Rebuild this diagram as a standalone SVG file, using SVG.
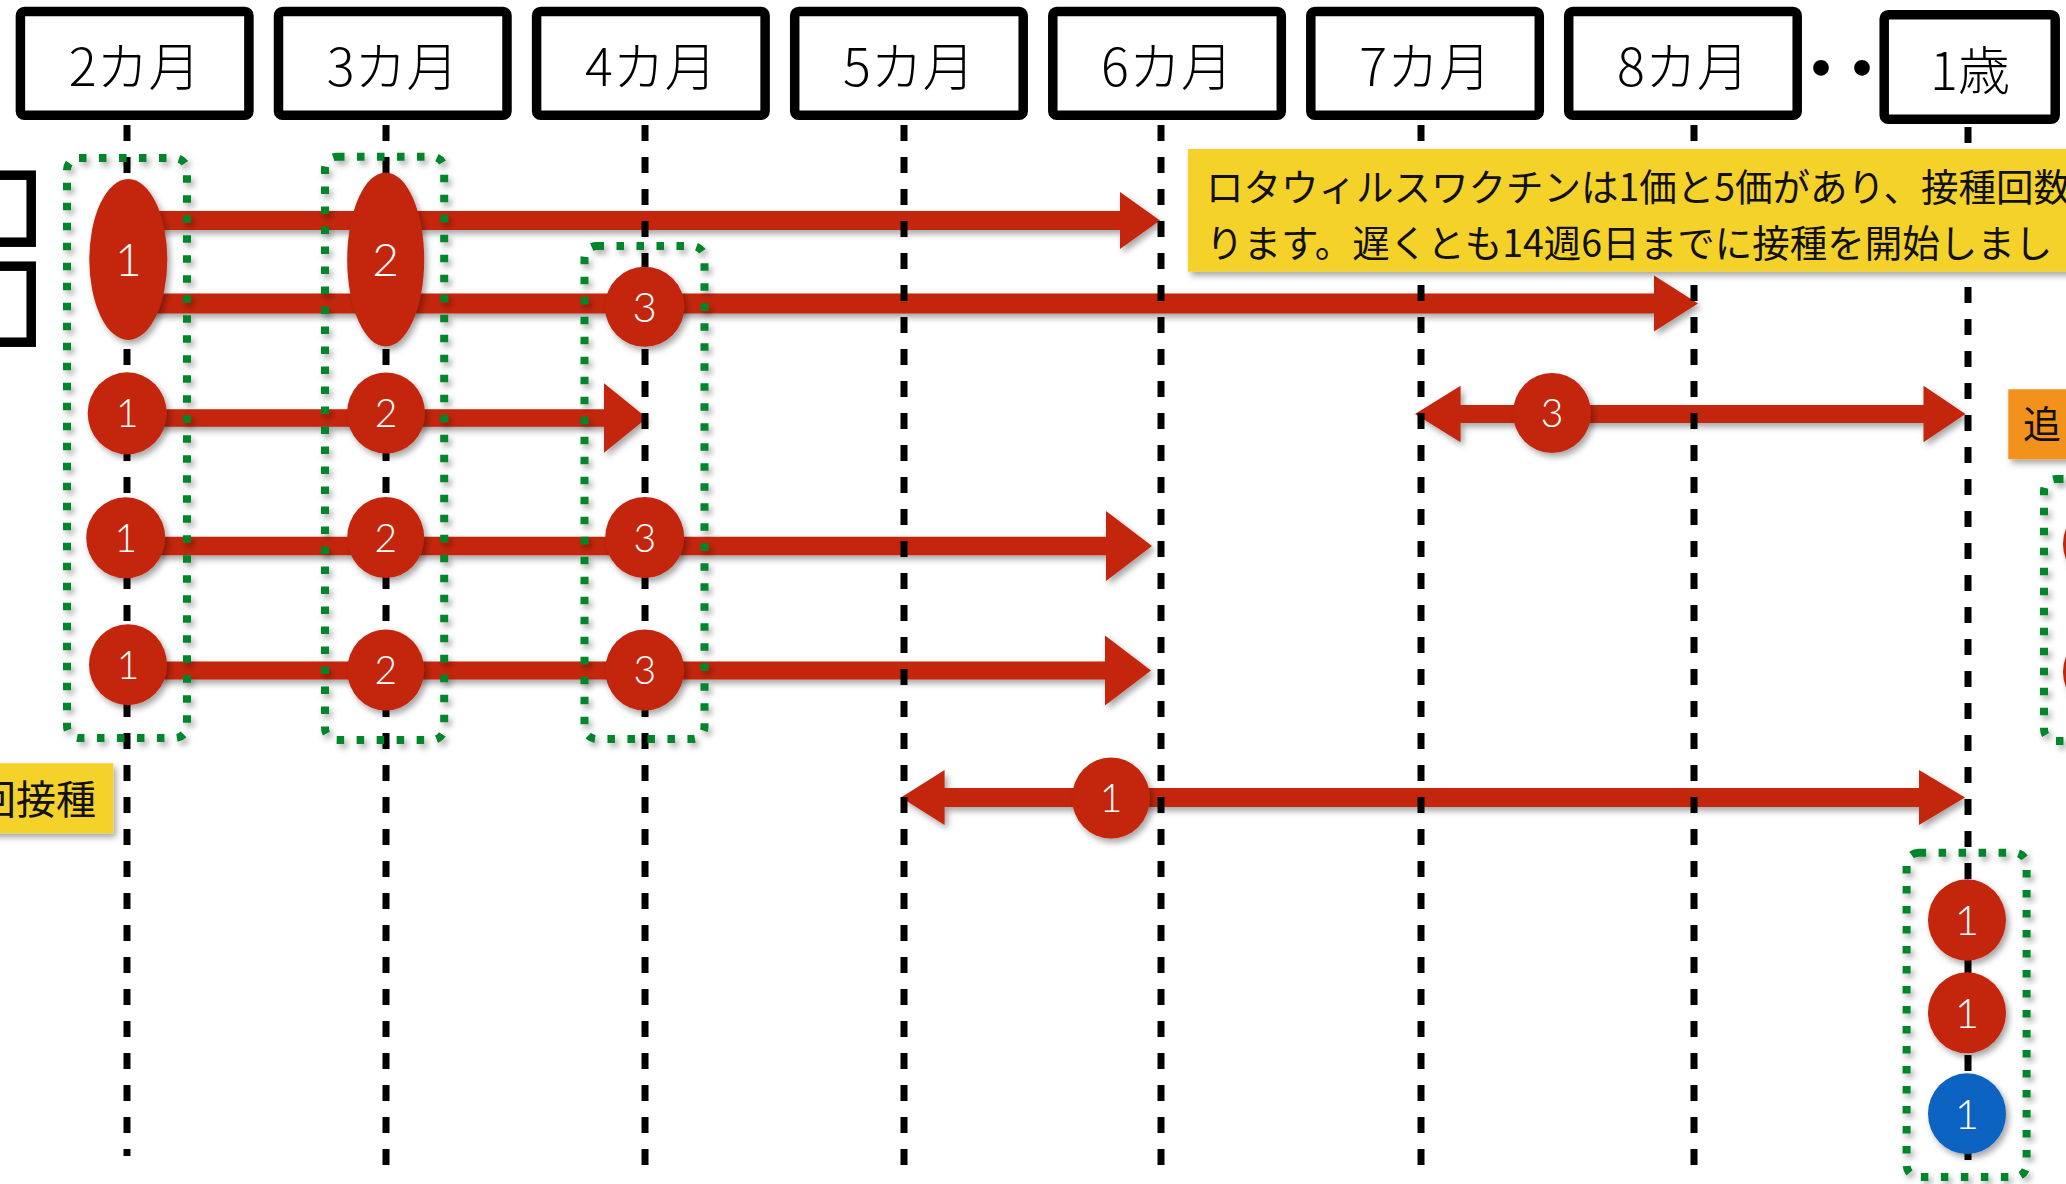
<svg xmlns="http://www.w3.org/2000/svg" width="2066" height="1184" viewBox="0 0 2066 1184">
<defs>
<filter id="sh" x="-20%" y="-20%" width="140%" height="140%">
<feDropShadow dx="3" dy="4" stdDeviation="3" flood-color="#000" flood-opacity="0.35"/>
</filter>
<style>
.hbox{fill:#fff;stroke:#000;stroke-width:9.5}
.htxt{font-family:"Noto Sans CJK JP","Noto Sans",sans-serif;font-weight:300;font-size:52px;fill:#000;text-anchor:middle}
.arr{fill:#C4250A;filter:url(#sh)}
.vl{stroke:#000;stroke-width:7;stroke-dasharray:16 16;fill:none}
.grp{fill:none;stroke:#00862B;stroke-width:8;stroke-dasharray:7.5 12.5;filter:url(#sh)}
.dot{fill:#C4250A;filter:url(#sh)}
.bdot{fill:#0A64C2;filter:url(#sh)}
.num{font-family:Lato,"Open Sans","Liberation Sans",sans-serif;font-weight:300;fill:#fff;text-anchor:middle}
.note{fill:#F4D22B;filter:url(#sh)}
.ntxt{font-family:"Noto Sans CJK JP","Noto Sans",sans-serif;fill:#111}
</style>
</defs>
<rect x="0" y="0" width="2066" height="1184" fill="#fff"/>

<g id="headers">
<g id="h2"><rect class="hbox" x="20.4" y="11.5" width="228.5" height="103.8" rx="4"/><text class="htxt" x="134.6" y="86">2カ月</text></g>
<g id="h3"><rect class="hbox" x="278.5" y="11.5" width="228.5" height="103.8" rx="4"/><text class="htxt" x="392.7" y="86">3カ月</text></g>
<g id="h4"><rect class="hbox" x="536.6" y="11.5" width="228.5" height="103.8" rx="4"/><text class="htxt" x="650.8" y="86">4カ月</text></g>
<g id="h5"><rect class="hbox" x="794.7" y="11.5" width="228.5" height="103.8" rx="4"/><text class="htxt" x="908.9" y="86">5カ月</text></g>
<g id="h6"><rect class="hbox" x="1052.8" y="11.5" width="228.5" height="103.8" rx="4"/><text class="htxt" x="1167" y="86">6カ月</text></g>
<g id="h7"><rect class="hbox" x="1310.8" y="11.5" width="228.5" height="103.8" rx="4"/><text class="htxt" x="1425.1" y="86">7カ月</text></g>
<g id="h8"><rect class="hbox" x="1568.7" y="11.5" width="228.5" height="103.8" rx="4"/><text class="htxt" x="1683" y="86">8カ月</text></g>
<g id="hdots"><text x="1793" y="89" font-family="Noto Sans CJK JP,sans-serif" font-weight="900" font-size="56" letter-spacing="-15" fill="#000">・・</text></g>
<g id="h1y"><rect class="hbox" x="1884.2" y="14.8" width="171" height="104.4" rx="4"/><text class="htxt" x="1970" y="90">1歳</text></g>
</g>

<g id="leftboxes">
<rect class="hbox" x="-200" y="175.2" width="231.2" height="67"/>
<rect class="hbox" x="-200" y="266.2" width="231.2" height="76"/>
</g>

<g id="connectors">
<path class="arr" d="M127,211 L1120,211 L1120,192 L1160,220.5 L1120,249 L1120,230 L127,230 Z"/>
<path class="arr" d="M127,293.5 L1654,293.5 L1654,275.5 L1698,303.5 L1654,331.5 L1654,313.5 L127,313.5 Z"/>
<path class="arr" d="M127,409.3 L604,409.3 L604,383.3 L647,418 L604,452.7 L604,426.7 L127,426.7 Z"/>
<path class="arr" d="M127,536.8 L1106,536.8 L1106,511 L1152,546 L1106,581 L1106,555.2 L127,555.2 Z"/>
<path class="arr" d="M127,661.5 L1105,661.5 L1105,635.5 L1151,670.5 L1105,705.5 L1105,679.5 L127,679.5 Z"/>
<path class="arr" d="M1415,414 L1460.6,385.7 L1460.6,405 L1923.5,405 L1923.5,385.7 L1965.5,414 L1923.5,442.3 L1923.5,423 L1460.6,423 L1460.6,442.3 Z"/>
<path class="arr" d="M901,797.5 L944.6,770 L944.6,788 L1919,788 L1919,770 L1965,797.5 L1919,825 L1919,807 L944.6,807 L944.6,825 Z"/>
<g id="gridlines">
<line class="vl" x1="127" y1="125" x2="127" y2="1156"/>
<line class="vl" x1="386" y1="125" x2="386" y2="1165"/>
<line class="vl" x1="645" y1="125" x2="645" y2="1165"/>
<line class="vl" x1="904" y1="125" x2="904" y2="1165"/>
<line class="vl" x1="1161" y1="125" x2="1161" y2="1165"/>
<line class="vl" x1="1421" y1="125" x2="1421" y2="1165"/>
<line class="vl" x1="1694" y1="125" x2="1694" y2="1165"/>
<line class="vl" x1="1968" y1="127" x2="1968" y2="1160"/>
</g>
</g>

<g id="groups">
<rect id="gA" class="grp" x="67" y="158" width="120" height="580" rx="12"/>
<rect id="gB" class="grp" x="325" y="156.7" width="119.2" height="583.3" rx="12"/>
<rect id="gC" class="grp" x="584.5" y="246" width="120" height="493" rx="12"/>
<rect id="gD" class="grp" x="2044" y="479" width="120" height="262" rx="12"/>
<rect id="gE" class="grp" x="1906.6" y="852.7" width="120" height="324.3" rx="12"/>
</g>

<g id="doses">
<g id="e1"><ellipse class="dot" cx="128.3" cy="259.5" rx="39" ry="80.5"/><text class="num" x="128.3" y="276" font-size="46">1</text></g>
<g id="e2"><ellipse class="dot" cx="385.7" cy="259.5" rx="38.5" ry="87"/><text class="num" x="385.7" y="276" font-size="46">2</text></g>
<g id="r2c3"><ellipse class="dot" cx="644.7" cy="306.7" rx="39.7" ry="40"/><text class="num" x="644.7" y="322" font-size="42">3</text></g>
<g id="r3c1"><ellipse class="dot" cx="127.2" cy="413.3" rx="39.5" ry="41"/><text class="num" x="127.2" y="427" font-size="39">1</text></g>
<g id="r3c2"><ellipse class="dot" cx="386" cy="413" rx="39" ry="40.5"/><text class="num" x="386" y="427" font-size="39">2</text></g>
<g id="r3c3"><ellipse class="dot" cx="1552" cy="413" rx="39" ry="40"/><text class="num" x="1552" y="427" font-size="39">3</text></g>
<g id="r4c1"><ellipse class="dot" cx="125.7" cy="537.8" rx="39.5" ry="40.5"/><text class="num" x="125.7" y="552" font-size="39">1</text></g>
<g id="r4c2"><ellipse class="dot" cx="385.7" cy="537.5" rx="38.5" ry="40.5"/><text class="num" x="385.7" y="552" font-size="39">2</text></g>
<g id="r4c3"><ellipse class="dot" cx="644.7" cy="537.5" rx="39.5" ry="40.5"/><text class="num" x="644.7" y="552" font-size="39">3</text></g>
<g id="r5c1"><ellipse class="dot" cx="128" cy="664.7" rx="39" ry="40.5"/><text class="num" x="128" y="679" font-size="39">1</text></g>
<g id="r5c2"><ellipse class="dot" cx="385.7" cy="670" rx="38.5" ry="40.5"/><text class="num" x="385.7" y="684" font-size="39">2</text></g>
<g id="r5c3"><ellipse class="dot" cx="644.7" cy="670" rx="39.5" ry="40.5"/><text class="num" x="644.7" y="684" font-size="39">3</text></g>
<g id="r6c1"><ellipse class="dot" cx="1111" cy="798" rx="39" ry="40.5"/><text class="num" x="1111" y="812" font-size="39">1</text></g>
<g id="dD1"><ellipse class="dot" cx="2102" cy="544" rx="39" ry="40.5"/></g>
<g id="dD2"><ellipse class="dot" cx="2102" cy="672" rx="39" ry="40.5"/></g>
<g id="b1"><ellipse class="dot" cx="1967" cy="920" rx="39" ry="40.7"/><text class="num" x="1967" y="935" font-size="42">1</text></g>
<g id="b2"><ellipse class="dot" cx="1967" cy="1012.8" rx="39" ry="40.5"/><text class="num" x="1967" y="1028" font-size="42">1</text></g>
<g id="b3"><ellipse class="bdot" cx="1967" cy="1113.7" rx="39" ry="40.4"/><text class="num" x="1967" y="1129" font-size="42">1</text></g>
</g>

<g id="noteTop">
<rect class="note" x="1188" y="149" width="900" height="122.7"/>
<text class="ntxt" x="1206" y="201" font-size="37.5">ロタウィルスワクチンは1価と5価があり、接種回数</text>
<text class="ntxt" x="1206" y="256.5" font-size="37.5">ります。遅くとも14週6日までに接種を開始しまし</text>
</g>
<g id="noteLeft">
<rect class="note" x="-20" y="763.3" width="133.3" height="70"/>
<text class="ntxt" x="96" y="814" font-size="40" text-anchor="end">回接種</text>
</g>
<g id="noteOrange">
<rect x="2008.3" y="389.3" width="100" height="70" fill="#F2921F" filter="url(#sh)"/>
<text class="ntxt" x="2023" y="438" font-size="38">追</text>
</g>
</svg>
